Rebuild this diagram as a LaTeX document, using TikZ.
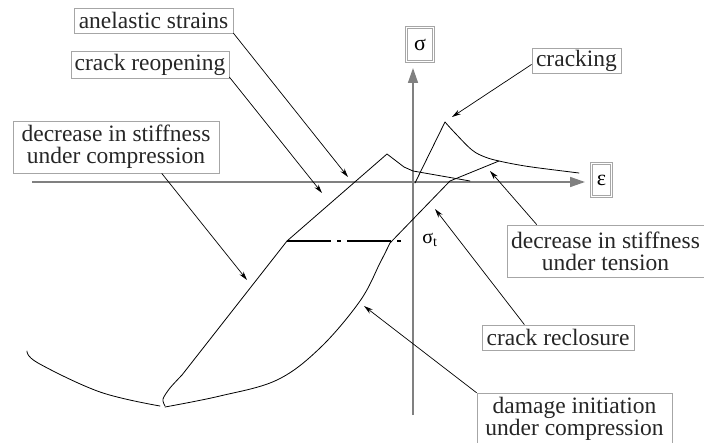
\documentclass[tikz,border=0pt]{standalone}
\usepackage{fontspec}
\setmainfont{Liberation Serif}
\usetikzlibrary{arrows.meta}
\begin{document}
\begin{tikzpicture}[x=1pt,y=-1pt,
  lbl/.style={draw=black!35, line width=0.8pt, inner sep=0pt, align=center,
    font=\fontsize{23.5}{22}\selectfont, text=black!85},
  dbl/.style={draw=black!35, double=white, double distance=1.6pt, line width=0.7pt,
    inner sep=0pt, font=\fontsize{22}{22}\selectfont},
  axis/.style={draw=black!50, line width=1.5pt, -{Triangle[length=15pt,width=10pt,fill=black!50]}},
  curve/.style={line width=0.8pt, line join=round, line cap=round},
  arr/.style={line width=0.7pt, -{Stealth[length=9pt,width=5pt]}},
  dashdot/.style={line width=1.2pt, dash pattern=on 44pt off 6pt on 4pt off 6pt}
]
\useasboundingbox (0,0) rectangle (704,443);

% axes
\coordinate (xs) at (32,182);
\coordinate (xe) at (585,182);
\coordinate (ys) at (413,415);
\coordinate (ye) at (413,68);
\draw[axis] (xs) -- (xe);
\draw[axis] (ys) -- (ye);

% labels
\node[lbl, minimum width=159pt, minimum height=25pt] (anel) at (153.5,20.5) {anelastic strains};
\node[lbl, minimum width=158pt, minimum height=27pt] (reop) at (150,64.5) {crack reopening};
\node[lbl, minimum width=206pt, minimum height=52pt] (dcomp) at (116,147) {decrease in stiffness\\under compression};
\node[dbl, minimum width=27pt, minimum height=34pt] (sig) at (420,44.5) {σ};
\node[dbl, minimum width=20pt, minimum height=33pt] (eps) at (601.5,180) {ε};
\node[lbl, minimum width=89pt, minimum height=25pt] (crk) at (576.5,60.5) {cracking};
\node[lbl, minimum width=197pt, minimum height=52pt] (dtens) at (605.5,251) {decrease in stiffness\\under tension};
\node[lbl, minimum width=152pt, minimum height=25pt] (reclo) at (558,337.5) {crack reclosure};
\node[lbl, minimum width=195pt, minimum height=52pt] (dmg) at (574.5,419) {damage initiation\\under compression};
\node[font=\fontsize{20}{20}\selectfont, inner sep=0pt] (sigt) at (430,240) {σ\textsubscript{t}};

% curves
\draw[curve] plot[smooth, tension=0.6] coordinates {(27,351) (38,363) (100,392) (160,406)};
% left branch of the loop, tension peak and return line
\draw[curve] plot[smooth, tension=0.5] coordinates {(165,406) (163,399) (170,388) (182,375)}
  -- (287,241) -- (387,154) -- (404,167) -- (413,171) -- (470,181);
% right branch of the loop
\draw[curve] plot[smooth, tension=0.6] coordinates {(165,407) (220,396) (277,380) (320,348) (360,301) (380,263) (390,243)}
  -- (450,181) -- (499,161);
% cracking and softening
\draw[curve] (415,183) -- (445,122) plot[smooth, tension=0.6] coordinates {(445,122) (455,133) (472,150) (485,157) (499,161) (519,165) (539,168) (579,173)};
% sigma_t level
\coordinate (dA) at (287,241);
\coordinate (dB) at (405,241);
\draw[dashdot] (dA) -- (dB);

% arrow tips
\coordinate (tAnel) at (348,177);
\coordinate (tReop) at (322,193);
\coordinate (tDcomp) at (247,280);
\coordinate (tCrk) at (452,117);
\coordinate (tDtens) at (490,171);
\coordinate (tReclo) at (435,209);
\coordinate (tDmg) at (364,306);

\draw[arr] (anel.-9.4) -- (tAnel);
\draw[arr] (reop.-9.9) -- (tReop);
\draw[arr] (dcomp.-30.6) -- (tDcomp);
\draw[arr] (crk.185.8) -- (tCrk);
\draw[arr] (dtens.159.8) -- (tDtens);
\draw[arr] (reclo.159.3) -- (tReclo);
\draw[arr] (dmg.165.6) -- (tDmg);
\end{tikzpicture}
\end{document}
